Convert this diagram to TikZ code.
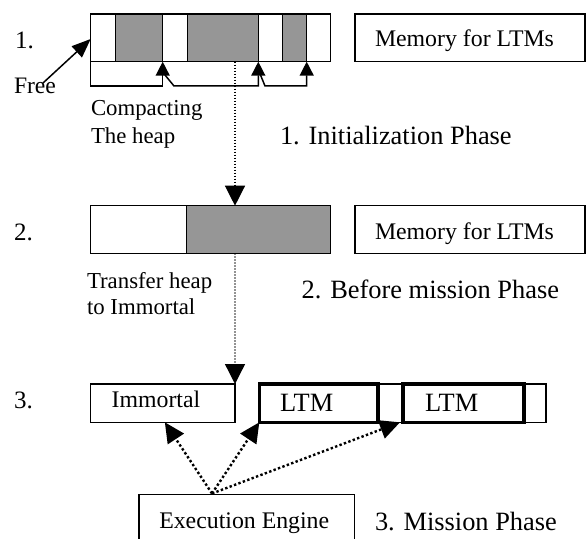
\documentclass[tikz,border=0pt]{standalone}
\usepackage{fontspec}
\setmainfont{Liberation Serif}
\usetikzlibrary{arrows.meta,calc}
\definecolor{heapgray}{RGB}{150,150,150}

\begin{document}
\begin{tikzpicture}[x=1bp,y=-1bp,
  frame/.style={draw=black,line width=1.5bp},
  heapblock/.style={frame,fill=heapgray},
  boxnode/.style={frame,rectangle,anchor=north west,inner sep=0pt,outer sep=0pt},
  ltmbox/.style={boxnode,line width=3.2bp},
  upshift/.style={frame,-{Triangle[length=14bp,width=14bp]}},
  vdots/.style={draw=black,line width=1.3bp,dash pattern=on 1.3bp off 1.7bp,
                -{Triangle[length=20bp,width=20bp]}},
  edots/.style={draw=black,line width=2.4bp,dash pattern=on 2.4bp off 2.3bp,
                -{Triangle[length=20bp,width=19bp]}},
  txt/.style={anchor=base west,inner sep=0pt,outer sep=0pt},
  numtxt/.style={txt,font=\fontsize{25bp}{28bp}\selectfont},
  sidetxt/.style={txt,font=\fontsize{22.8bp}{26bp}\selectfont},
  boxtxt/.style={txt,font=\fontsize{23.8bp}{27bp}\selectfont},
  bigtxt/.style={txt,font=\fontsize{26.4bp}{30bp}\selectfont}
]
\useasboundingbox (0,0) rectangle (586,539);

% ---------- 1. heap before compaction ----------
\node[boxnode,minimum width=240bp,minimum height=47.7bp] (bar1) at (90.7,14) {};
\draw[heapblock] (115.7,14) rectangle (162.7,61.7);
\draw[heapblock] (187.3,14) rectangle (258.3,61.7);
\draw[heapblock] (282.7,14) rectangle (306.7,61.7);
\node[boxnode,minimum width=230bp,minimum height=47.7bp] (mem1) at (355,14) {};
\node[boxtxt] (mem1t) at (375,46.7) {Memory for LTMs};

% compaction shifts
\coordinate (s1a) at (90.7,61.7);
\coordinate (s1b) at (162.7,61.7);
\coordinate (s2a) at (165,75);
\coordinate (s2b) at (258.3,61.7);
\coordinate (s3a) at (260.5,75);
\coordinate (s3b) at (306.7,61.7);
\draw[upshift] (s1a) -- (s1a |- 0,86) -- (s1b |- 0,86) -- (s1b);
\draw[upshift] (s2a) -- (174,86) -- (s2b |- 0,86) -- (s2b);
\draw[upshift] (s3a) -- (265,86) -- (s3b |- 0,86) -- (s3b);

\node[numtxt] (n1) at (15,48.3) {1.};
\node[sidetxt,font=\fontsize{23.6bp}{27bp}\selectfont] (free) at (14,93.3) {Free};
\draw[frame,-{Triangle[length=19bp,width=15bp]}] (43,83) -- (bar1.west |- 0,39);
\node[sidetxt] (comp1) at (91,116) {Compacting};
\node[sidetxt] (comp2) at (91,143.5) {The heap};
\node[bigtxt] (ph1) at (280,144.3) {1. Initialization Phase};

% ---------- 2. compacted heap ----------
\node[boxnode,minimum width=240bp,minimum height=47.6bp] (bar2) at (90.7,205.7) {};
\draw[heapblock] (186.7,205.7) rectangle (330.7,253.3);
\node[boxnode,minimum width=230bp,minimum height=47.6bp] (mem2) at (355,205.7) {};
\node[boxtxt] (mem2t) at (375,239.3) {Memory for LTMs};

\coordinate (d1a) at (235,61.7);
\draw[vdots] (d1a) -- (d1a |- bar2.north);

\node[numtxt] (n2) at (14,240) {2.};
\node[sidetxt] (tr1) at (87,288) {Transfer heap};
\node[sidetxt] (tr2) at (87,314) {to Immortal};
\node[bigtxt] (ph2) at (301.7,298.3) {2. Before mission Phase};

% ---------- 3. mission memory layout ----------
\node[boxnode,minimum width=144.3bp,minimum height=38.3bp] (imm) at (90.7,384) {};
\node[boxtxt] (immt) at (111.7,407.3) {Immortal};
\node[boxnode,minimum width=287.5bp,minimum height=38.3bp] (ltmarea) at (258.5,384) {};
\node[ltmbox,minimum width=118.7bp,minimum height=38.3bp] (ltm1) at (259.3,384) {};
\node[ltmbox,minimum width=121bp,minimum height=38.3bp] (ltm2) at (403,384) {};
\node[bigtxt] (ltm1t) at (280,411.7) {LTM};
\node[bigtxt] (ltm2t) at (425,411.7) {LTM};

\coordinate (d2a) at (235,253.3);
\draw[vdots] (d2a) -- (imm.north east);

\node[numtxt] (n3) at (14,408.3) {3.};

\node[boxnode,minimum width=215.3bp,minimum height=52bp] (eng) at (139,494.3) {};
\node[boxtxt] (engt) at (159.3,528.3) {Execution Engine};
\node[bigtxt] (ph3) at (375,530) {3. Mission Phase};

\coordinate (src) at ($(eng.north west)+(73,-0.8)$);
\draw[edots] (src) -- ($(imm.south)+(2,0)$);
\draw[edots] (src) -- (ltm1.south west);
\draw[edots] (src) -- ($(ltm2.south west)+(-3,0)$);
\end{tikzpicture}
\end{document}
